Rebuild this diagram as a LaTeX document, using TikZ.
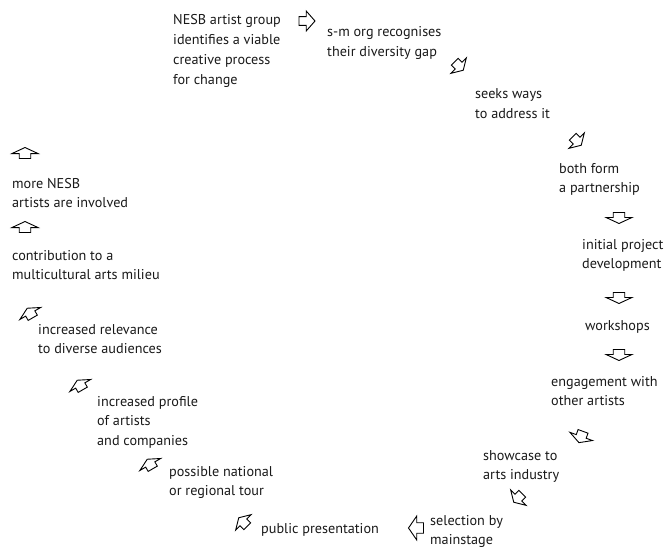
\documentclass[tikz,border=0pt]{standalone}
\usepackage{fontspec}
\setmainfont{PT Sans}
\newcommand{\mlines}[1]{\begin{tabular}[t]{@{}l@{}}#1\end{tabular}}
\tikzset{
  lbl/.style={anchor=base west, inner sep=0pt, font=\fontsize{14.2}{19.7}\selectfont, text=black!90},
  arrowline/.style={draw=black, line width=0.9pt, line join=miter, fill=white},
  pics/barrow/.style 2 args={code={
    \draw[arrowline] ({-#1/2},{-0.22*#2}) -- ({-0.05*#1},{-0.22*#2}) -- ({-0.05*#1},{-#2/2})
      -- ({#1/2},0) -- ({-0.05*#1},{#2/2}) -- ({-0.05*#1},{0.22*#2}) -- ({-#1/2},{0.22*#2}) -- cycle;
  }}
}
\begin{document}
\begin{tikzpicture}[x=1pt,y=-1pt]
\useasboundingbox (0,0) rectangle (672,551);
% texts
\node[lbl] (t1) at (173,25) {\mlines{NESB artist group\\identifies a viable\\creative process\\for change}};
\node[lbl] (t2) at (327,37) {\mlines{s-m org recognises\\their diversity gap}};
\node[lbl] (t3) at (475,99) {\mlines{seeks ways\\to address it}};
\node[lbl] (t4) at (559,173) {\mlines{both form\\a partnership}};
\node[lbl] (t5) at (582,249) {\mlines{initial project\\development}};
\node[lbl] (t6) at (585,330) {workshops};
\node[lbl] (t7) at (551,386) {\mlines{engagement with\\other artists}};
\node[lbl] (t8) at (483,460) {\mlines{showcase to\\arts industry}};
\node[lbl] (t9) at (430,525) {\mlines{selection by\\mainstage}};
\node[lbl] (t10) at (261,533) {public presentation};
\node[lbl] (t11) at (169,476) {\mlines{possible national\\or regional tour}};
\node[lbl] (t12) at (97,406) {\mlines{increased profile\\of artists\\and companies}};
\node[lbl] (t13) at (38,334) {\mlines{increased relevance\\to diverse audiences}};
\node[lbl] (t14) at (12,260) {\mlines{contribution to a\\multicultural arts milieu}};
\node[lbl] (t15) at (12,188) {\mlines{more NESB\\artists are involved}};
% arrows (rotation counter-clockwise on screen)
\pic[rotate=0] (a1) at (307,21) {barrow={16}{20}};
\pic[rotate=-45] (a2) at (459,66) {barrow={12}{22}};
\pic[rotate=-45] (a3) at (577,141) {barrow={12}{22}};
\pic[rotate=-90] (a4) at (619,218) {barrow={11}{26}};
\pic[rotate=-90] (a5) at (619,298) {barrow={11}{26}};
\pic[rotate=-90] (a6) at (619,355) {barrow={11}{26}};
\pic[rotate=-110] (a7) at (581,437) {barrow={12}{24}};
\pic[rotate=-135] (a8) at (518,498) {barrow={12}{22}};
\pic[rotate=180] (a9) at (416,528) {barrow={15}{24}};
\pic[rotate=135] (a10) at (243,522) {barrow={12}{22}};
\pic[rotate=120] (a11) at (150,464) {barrow={11}{24}};
\pic[rotate=120] (a12) at (80,385) {barrow={11}{24}};
\pic[rotate=120] (a13) at (30,313) {barrow={11}{24}};
\pic[rotate=90] (a14) at (25,227) {barrow={11}{26}};
\pic[rotate=90] (a15) at (25,153) {barrow={11}{26}};
\end{tikzpicture}
\end{document}
